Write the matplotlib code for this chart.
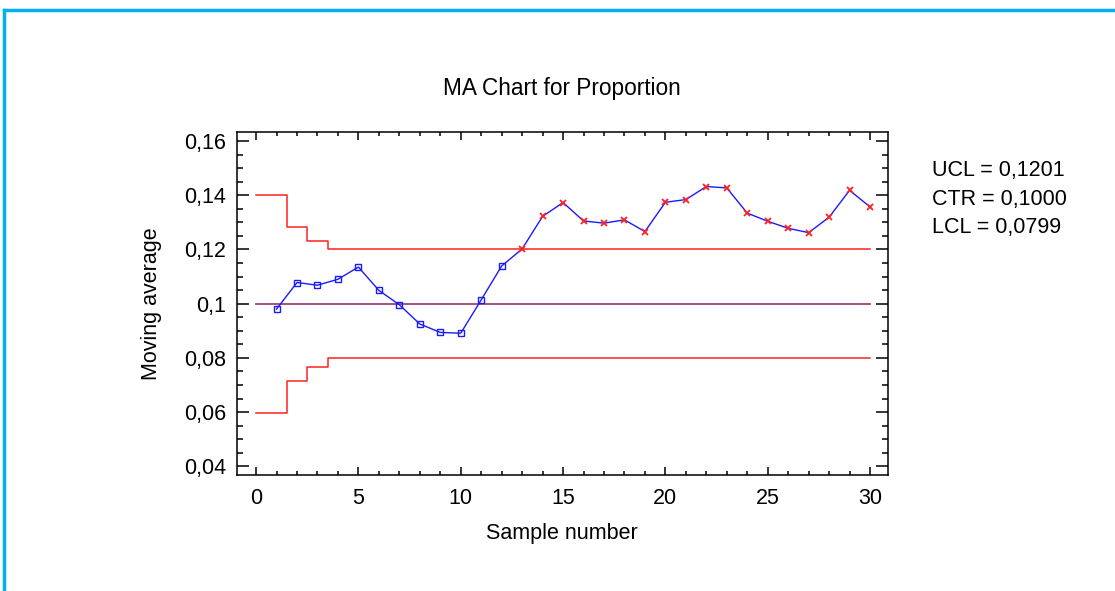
import matplotlib.pyplot as plt
import matplotlib.lines as mlines
from matplotlib.ticker import MultipleLocator, FuncFormatter

plt.rcParams['font.family'] = ['Liberation Sans', 'DejaVu Sans']

# moving averages of the proportion, span 4
samples = list(range(1, 31))
moving_avg = [0.0980, 0.1078, 0.1068, 0.1090, 0.1135, 0.1049, 0.0996, 0.0925,
              0.0894, 0.0891, 0.1014, 0.1139, 0.1202, 0.1322, 0.1373, 0.1305,
              0.1297, 0.1309, 0.1266, 0.1374, 0.1384, 0.1432, 0.1427, 0.1334,
              0.1304, 0.1278, 0.1262, 0.1319, 0.1418, 0.1357]

# stepped control limits (limits widen for the first samples)
limit_x = [0, 1.5, 2.5, 3.5, 30]
ucl_steps = [0.1402, 0.1284, 0.1232, 0.1201]
lcl_steps = [0.0598, 0.0716, 0.0768, 0.0799]
ucl, ctr, lcl = 0.1201, 0.1000, 0.0799

fig = plt.figure(figsize=(11.15, 5.91), dpi=100)
ax = fig.add_axes([0.2126, 0.1958, 0.5835, 0.5803])

# control limits as step lines
ux = [limit_x[0]]
uy = [ucl_steps[0]]
ly = [lcl_steps[0]]
for i in range(len(ucl_steps)):
    nxt = min(i + 1, len(ucl_steps) - 1)
    ux += [limit_x[i + 1], limit_x[i + 1]]
    uy += [ucl_steps[i], ucl_steps[nxt]]
    ly += [lcl_steps[i], lcl_steps[nxt]]
ax.plot(ux, uy, color='#ff2020', lw=1.1)
ax.plot(ux, ly, color='#ff2020', lw=1.1)
ax.plot([0, 30], [ctr, ctr], color='#98457c', lw=1.3)

# moving average line and points
ax.plot(samples, moving_avg, color='#1a1aff', lw=1.0)
inside = [(s, v) for s, v in zip(samples, moving_avg) if lcl <= v <= ucl]
outside = [(s, v) for s, v in zip(samples, moving_avg) if not (lcl <= v <= ucl)]
ax.plot([p[0] for p in inside], [p[1] for p in inside], ls='none', marker='s',
        ms=4.5, mfc='none', mec='#1a1aff', mew=1.0)
ax.plot([p[0] for p in outside], [p[1] for p in outside], ls='none', marker='x',
        ms=5, mec='#ff2020', mew=1.3)

ax.set_xlim(-0.93, 30.86)
ax.set_ylim(0.0367, 0.1632)
ax.xaxis.set_major_locator(MultipleLocator(5))
ax.xaxis.set_minor_locator(MultipleLocator(1))
ax.yaxis.set_major_locator(MultipleLocator(0.02))
ax.yaxis.set_minor_locator(MultipleLocator(0.005))


def comma_fmt(v, pos):
    s = ('%.2f' % v).rstrip('0')
    if s.endswith('.'):
        s = s[:-1]
    return s.replace('.', ',')


ax.yaxis.set_major_formatter(FuncFormatter(comma_fmt))

ax.tick_params(axis='both', which='both', direction='in', top=True, right=True,
               labelsize=15.5, width=1.1, color='black')
ax.tick_params(axis='x', which='major', length=5.5, pad=9)
ax.tick_params(axis='x', which='minor', length=2.7)
ax.tick_params(axis='y', which='major', length=8.5, pad=8)
ax.tick_params(axis='y', which='minor', length=4)
for sp in ax.spines.values():
    sp.set_linewidth(1.1)

ax.set_xlabel('Sample number', fontsize=15.5, labelpad=10)
ax.set_ylabel('Moving average', fontsize=15.5, labelpad=16)
ax.set_title('MA Chart for Proportion', fontsize=16.3, pad=27)

fig.text(0.8356, 0.712, 'UCL = 0,1201', fontsize=15.5, va='center')
fig.text(0.8356, 0.662, 'CTR = 0,1000', fontsize=15.5, va='center')
fig.text(0.8356, 0.615, 'LCL = 0,0799', fontsize=15.5, va='center')

# blue frame on the top and left edges
fig.add_artist(mlines.Line2D([0.0035, 1.0], [0.9835, 0.9835], color='#00b0f0', lw=2.5,
                             transform=fig.transFigure))
fig.add_artist(mlines.Line2D([0.0035, 0.0035], [0.0, 0.9835], color='#00b0f0', lw=2.5,
                             transform=fig.transFigure))

plt.savefig('out.png', dpi=100)
